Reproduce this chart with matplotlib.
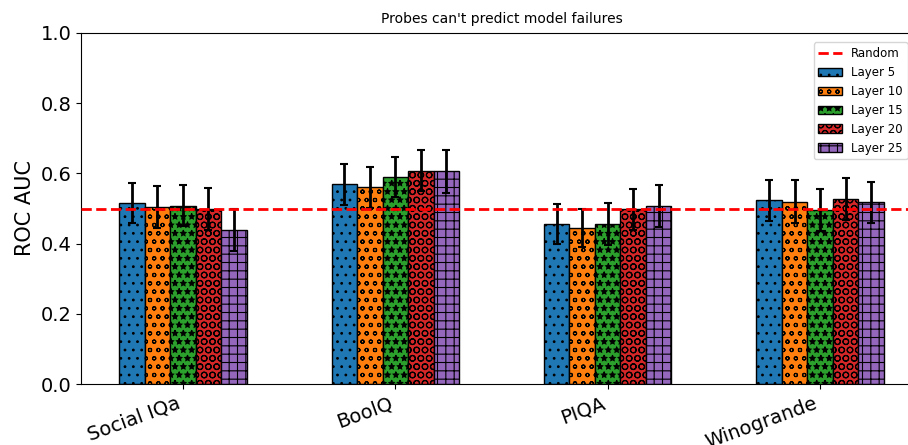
import numpy as np
import matplotlib
matplotlib.use("Agg")
import matplotlib.pyplot as plt

datasets = ["Social IQa", "BoolQ", "PIQA", "Winogrande"]
layers = ["Layer 5", "Layer 10", "Layer 15", "Layer 20", "Layer 25"]

# mean ROC AUC per layer, one value per dataset
auc_layer5 = [0.516, 0.569, 0.455, 0.523]
auc_layer10 = [0.505, 0.560, 0.444, 0.519]
auc_layer15 = [0.508, 0.591, 0.455, 0.496]
auc_layer20 = [0.499, 0.608, 0.498, 0.528]
auc_layer25 = [0.439, 0.606, 0.508, 0.518]

# error bar half widths
err_layer5 = [0.057, 0.058, 0.057, 0.058]
err_layer10 = [0.060, 0.059, 0.055, 0.061]
err_layer15 = [0.059, 0.057, 0.060, 0.060]
err_layer20 = [0.059, 0.059, 0.058, 0.060]
err_layer25 = [0.060, 0.061, 0.060, 0.058]

random_baseline = 0.5

all_auc = [auc_layer5, auc_layer10, auc_layer15, auc_layer20, auc_layer25]
all_err = [err_layer5, err_layer10, err_layer15, err_layer20, err_layer25]
colors = ["#1f77b4", "#ff7f0e", "#2ca02c", "#d62728", "#9467bd"]
hatches = ["..", "oo", "**", "OO", "++"]

plt.rcParams["hatch.linewidth"] = 0.8

fig = plt.figure(figsize=(9.08, 4.45), dpi=100)
# axes runs a bit past the right edge, as in the cropped original
ax = fig.add_axes([81 / 908, 61 / 445, 841 / 908, 351 / 445])

x = np.arange(len(datasets))
width = 0.12

ax.axhline(random_baseline, color="red", linestyle="--", linewidth=2, label="Random", zorder=3)

for i, layer in enumerate(layers):
    ax.bar(
        x + (i - 2) * width,
        all_auc[i],
        width,
        yerr=all_err[i],
        color=colors[i],
        edgecolor="black",
        hatch=hatches[i],
        label=layer,
        capsize=3,
        error_kw={"elinewidth": 2, "capthick": 1.5, "ecolor": "black"},
        zorder=2,
    )

ax.set_ylim(0, 1.0)
ax.set_ylabel("ROC AUC", fontsize=15)
ax.set_title("Probes can't predict model failures", fontsize=10, pad=7)
ax.set_xticks(x)
ax.set_xticklabels(datasets, rotation=20, ha="right", fontsize=14)
ax.tick_params(axis="y", labelsize=14)
ax.legend(loc="upper right", bbox_to_anchor=(0.99, 0.99), fontsize=8.5)

fig.savefig("out.png", dpi=100)
